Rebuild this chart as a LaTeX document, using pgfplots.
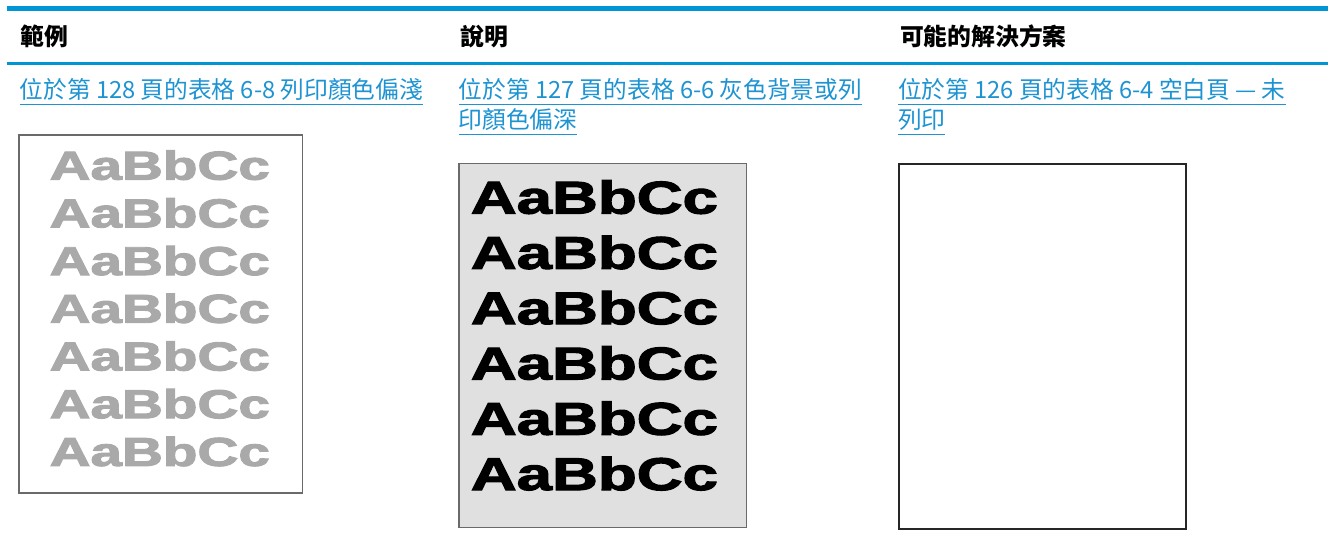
\documentclass[border=0pt]{standalone}
\usepackage{fontspec}
\usepackage{graphicx}
\usepackage{xcolor}
\usepackage{pgfplots}
\pgfplotsset{compat=1.18}
\setmainfont{Noto Sans CJK TC}
\newfontfamily\sample{Liberation Sans Bold}[FakeBold=2.2]
\definecolor{hpblue}{HTML}{0096D6}
\definecolor{linkblue}{HTML}{1E93D2}
\definecolor{lightink}{HTML}{A9A9A9}
\definecolor{boxgray}{HTML}{E0E0E0}
\definecolor{edgegray}{HTML}{6A6A6A}
\newcommand\ul[1]{\setbox0\hbox{#1}\rlap{\rule[-4.6pt]{\wd0}{0.9pt}}\box0}
\newcommand\lightrow{\fontsize{30.4pt}{32pt}\sample\color{lightink}\scalebox{1.40}[1]{AaBbCc}}
\newcommand\darkrow{\fontsize{34.6pt}{36pt}\sample\color{black}\scalebox{1.38}[1]{AaBbCc}}
\begin{document}
\begin{tikzpicture}
\begin{axis}[
  width=997.5pt, height=408pt, scale only axis,
  xmin=0, xmax=1330, ymin=0, ymax=544, y dir=reverse,
  hide axis, clip=false,
  every node/.style={inner sep=0pt, outer sep=0pt},
]
% full extent
\addplot[draw=none] coordinates {(0,0) (1330,544)};
% rules
\addplot[hpblue, line width=3.75pt] coordinates {(7,8.5) (1330,8.5)};
\addplot[hpblue, line width=2.25pt] coordinates {(7,63.5) (1330,63.5)};
% boxes
\addplot[draw=edgegray, line width=1.2pt, fill=white] coordinates {(19,135) (303,135) (303,494) (19,494)} -- cycle;
\addplot[draw=edgegray, line width=1.2pt, fill=boxgray] coordinates {(460,164) (748,164) (748,528.5) (460,528.5)} -- cycle;
\addplot[draw=black!85, line width=1.7pt, fill=white] coordinates {(900.5,164.5) (1188,164.5) (1188,530) (900.5,530)} -- cycle;
% headers
\node[anchor=base west, font=\fontsize{17.9pt}{20pt}\selectfont\bfseries] at (axis cs:16,46) {範例};
\node[anchor=base west, font=\fontsize{17.9pt}{20pt}\selectfont\bfseries] at (axis cs:457,46) {說明};
\node[anchor=base west, font=\fontsize{17.9pt}{20pt}\selectfont\bfseries] at (axis cs:897,46) {可能的解決方案};
% links
\node[anchor=base west, text=linkblue, font=\fontsize{17.8pt}{20pt}\selectfont] at (axis cs:15,99) {\ul{位於第 128 頁的表格 6-8 列印顏色偏淺}};
\node[anchor=base west, text=linkblue, font=\fontsize{17.8pt}{20pt}\selectfont] at (axis cs:455,99) {\ul{位於第 127 頁的表格 6-6 灰色背景或列}};
\node[anchor=base west, text=linkblue, font=\fontsize{17.8pt}{20pt}\selectfont] at (axis cs:455,129) {\ul{印顏色偏深}};
\node[anchor=base west, text=linkblue, font=\fontsize{17.8pt}{20pt}\selectfont] at (axis cs:895,99) {\ul{位於第 126 頁的表格 6-4 空白頁 — 未}};
\node[anchor=base west, text=linkblue, font=\fontsize{17.8pt}{20pt}\selectfont] at (axis cs:895,129) {\ul{列印}};
% light sample rows
\node[anchor=base west] at (axis cs:45,180) {\lightrow};
\node[anchor=base west] at (axis cs:45,227.8) {\lightrow};
\node[anchor=base west] at (axis cs:45,275.6) {\lightrow};
\node[anchor=base west] at (axis cs:45,323.4) {\lightrow};
\node[anchor=base west] at (axis cs:45,371.2) {\lightrow};
\node[anchor=base west] at (axis cs:45,419) {\lightrow};
\node[anchor=base west] at (axis cs:45,466.8) {\lightrow};
% dark sample rows
\node[anchor=base west] at (axis cs:467,214) {\darkrow};
\node[anchor=base west] at (axis cs:467,269.4) {\darkrow};
\node[anchor=base west] at (axis cs:467,324.8) {\darkrow};
\node[anchor=base west] at (axis cs:467,380.2) {\darkrow};
\node[anchor=base west] at (axis cs:467,435.6) {\darkrow};
\node[anchor=base west] at (axis cs:467,491) {\darkrow};
\end{axis}
\end{tikzpicture}
\end{document}
